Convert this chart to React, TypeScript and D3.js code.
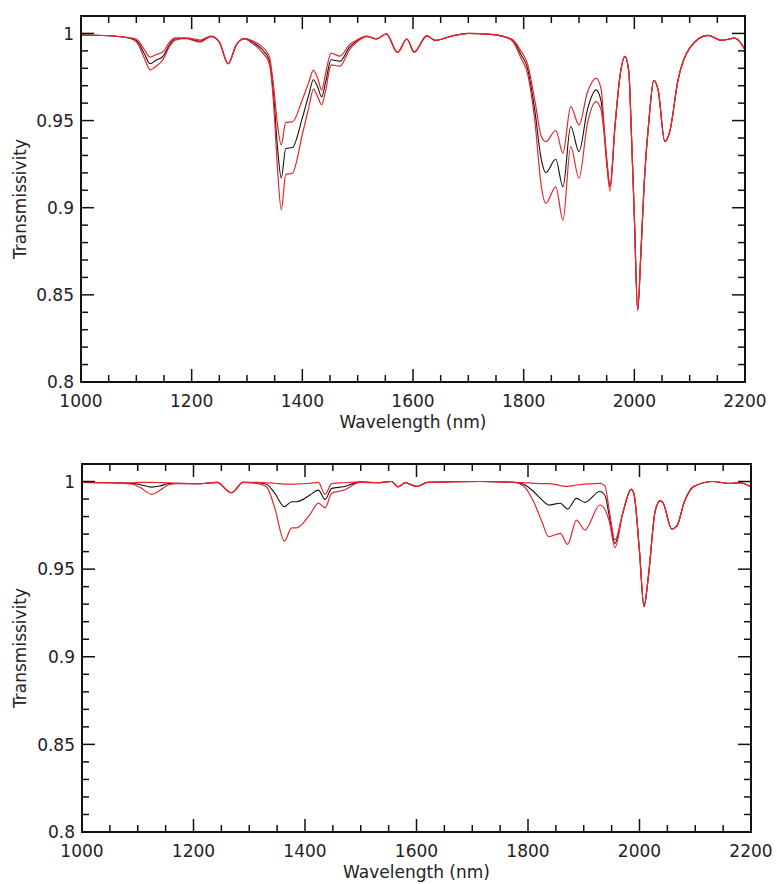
import React from 'react';
import * as d3 from 'd3';

// wavelength grid (nm) and transmissivity
const topWavelengths = [
  1000, 1040, 1080, 1100, 1115, 1125, 1135, 1148, 1160, 1170,
  1190, 1215, 1235, 1250, 1266, 1280, 1295, 1310, 1325, 1340,
  1348, 1355, 1362, 1370, 1382, 1400, 1412, 1420, 1428, 1435,
  1442, 1452, 1468, 1485, 1500, 1516, 1534, 1552, 1572, 1589,
  1602, 1625, 1640, 1670, 1700, 1740, 1763, 1780, 1795, 1807,
  1820, 1832, 1840, 1858, 1871, 1885, 1900, 1915, 1931, 1940,
  1946, 1951, 1956, 1965, 1974, 1983, 1990, 1995, 2000, 2006,
  2012, 2018, 2027, 2035, 2043, 2055, 2064, 2079, 2100, 2133,
  2158, 2182, 2200,
];

const topMean = [
  0.9990, 0.9988, 0.9978, 0.9960, 0.9880, 0.9826, 0.9845, 0.9868, 0.9935, 0.9968,
  0.9972, 0.9955, 0.9983, 0.9950, 0.9826, 0.9930, 0.9970, 0.9950, 0.9915, 0.9850,
  0.9650, 0.9350, 0.9170, 0.9340, 0.9345, 0.9515, 0.9652, 0.9734, 0.9690, 0.9636,
  0.9720, 0.9849, 0.9840, 0.9920, 0.9960, 0.9983, 0.9969, 0.9997, 0.9891, 0.9968,
  0.9893, 0.9986, 0.9960, 0.9985, 1.0000, 0.9995, 0.9983, 0.9960, 0.9880, 0.9800,
  0.9561, 0.9274, 0.9201, 0.9278, 0.9120, 0.9466, 0.9322, 0.9560, 0.9676, 0.9610,
  0.9420, 0.9240, 0.9120, 0.9466, 0.9753, 0.9868, 0.9780, 0.9400, 0.8950, 0.8412,
  0.8750, 0.9150, 0.9523, 0.9730, 0.9676, 0.9380, 0.9437, 0.9734, 0.9916, 0.9989,
  0.9960, 0.9973, 0.9906,
];

const topUpper = [
  0.9990, 0.9988, 0.9978, 0.9968, 0.9905, 0.9864, 0.9878, 0.9893, 0.9950, 0.9975,
  0.9975, 0.9962, 0.9985, 0.9950, 0.9826, 0.9930, 0.9972, 0.9958, 0.9930, 0.9870,
  0.9700, 0.9480, 0.9360, 0.9490, 0.9492, 0.9620, 0.9723, 0.9790, 0.9740, 0.9675,
  0.9770, 0.9887, 0.9870, 0.9935, 0.9965, 0.9984, 0.9969, 0.9997, 0.9891, 0.9968,
  0.9893, 0.9986, 0.9960, 0.9985, 1.0000, 0.9995, 0.9983, 0.9965, 0.9900, 0.9825,
  0.9619, 0.9408, 0.9379, 0.9443, 0.9313, 0.9580, 0.9475, 0.9660, 0.9744, 0.9680,
  0.9440, 0.9250, 0.9125, 0.9466, 0.9753, 0.9868, 0.9780, 0.9400, 0.8950, 0.8412,
  0.8750, 0.9150, 0.9523, 0.9730, 0.9676, 0.9380, 0.9437, 0.9734, 0.9916, 0.9989,
  0.9960, 0.9973, 0.9906,
];

const topLower = [
  0.9990, 0.9988, 0.9978, 0.9952, 0.9855, 0.9791, 0.9810, 0.9849, 0.9925, 0.9962,
  0.9970, 0.9950, 0.9982, 0.9950, 0.9826, 0.9930, 0.9968, 0.9942, 0.9900, 0.9830,
  0.9600, 0.9230, 0.8987, 0.9190, 0.9198, 0.9420, 0.9580, 0.9680, 0.9635, 0.9590,
  0.9670, 0.9820, 0.9812, 0.9905, 0.9955, 0.9982, 0.9969, 0.9997, 0.9891, 0.9968,
  0.9893, 0.9986, 0.9960, 0.9985, 1.0000, 0.9995, 0.9983, 0.9955, 0.9860, 0.9770,
  0.9503, 0.9120, 0.9025, 0.9120, 0.8929, 0.9350, 0.9169, 0.9480, 0.9609, 0.9560,
  0.9400, 0.9220, 0.9095, 0.9466, 0.9753, 0.9868, 0.9780, 0.9400, 0.8950, 0.8412,
  0.8750, 0.9150, 0.9523, 0.9730, 0.9676, 0.9380, 0.9437, 0.9734, 0.9916, 0.9989,
  0.9960, 0.9973, 0.9906,
];

const bottomWavelengths = [
  1000, 1050, 1090, 1105, 1125, 1140, 1155, 1170, 1212, 1242,
  1268, 1289, 1315, 1331, 1346, 1363, 1376, 1385, 1409, 1424,
  1436, 1448, 1469, 1499, 1530, 1555, 1567, 1580, 1600, 1620,
  1714, 1774, 1792, 1810, 1825, 1837, 1858, 1871, 1887, 1902,
  1929, 1938, 1946, 1956, 1970, 1985, 1990, 2000, 2008, 2016,
  2028, 2037, 2042, 2058, 2067, 2080, 2097, 2132, 2162, 2180,
  2200,
];

const bottomMean = [
  0.9995, 0.9993, 0.9990, 0.9982, 0.9968, 0.9975, 0.9988, 0.9990, 0.9988, 0.9995,
  0.9936, 0.9995, 0.9993, 0.9985, 0.9932, 0.9857, 0.9885, 0.9885, 0.9923, 0.9951,
  0.9898, 0.9961, 0.9970, 0.9998, 0.9993, 1.0000, 0.9970, 0.9993, 0.9972, 0.9995,
  1.0000, 0.9996, 0.9984, 0.9943, 0.9895, 0.9866, 0.9876, 0.9843, 0.9904, 0.9881,
  0.9943, 0.9920, 0.9800, 0.9647, 0.9820, 0.9955, 0.9930, 0.9600, 0.9286, 0.9460,
  0.9830, 0.9890, 0.9880, 0.9729, 0.9745, 0.9880, 0.9971, 1.0000, 0.9989, 0.9993,
  0.9970,
];

const bottomUpper = [
  0.9995, 0.9993, 0.9993, 0.9995, 0.9995, 0.9994, 0.9993, 0.9990, 0.9988, 0.9995,
  0.9936, 0.9995, 0.9996, 0.9993, 0.9990, 0.9985, 0.9985, 0.9986, 0.9990, 0.9995,
  0.9927, 0.9988, 0.9993, 0.9998, 0.9993, 1.0000, 0.9970, 0.9993, 0.9972, 0.9995,
  1.0000, 0.9996, 0.9994, 0.9990, 0.9988, 0.9988, 0.9977, 0.9972, 0.9980, 0.9985,
  0.9990, 0.9975, 0.9830, 0.9667, 0.9820, 0.9955, 0.9930, 0.9600, 0.9286, 0.9460,
  0.9830, 0.9890, 0.9880, 0.9729, 0.9745, 0.9880, 0.9971, 1.0000, 0.9989, 0.9993,
  0.9970,
];

const bottomLower = [
  0.9995, 0.9993, 0.9985, 0.9965, 0.9927, 0.9950, 0.9980, 0.9988, 0.9988, 0.9995,
  0.9936, 0.9995, 0.9988, 0.9970, 0.9847, 0.9660, 0.9736, 0.9736, 0.9813, 0.9877,
  0.9850, 0.9933, 0.9950, 0.9995, 0.9993, 1.0000, 0.9970, 0.9993, 0.9972, 0.9995,
  1.0000, 0.9996, 0.9975, 0.9886, 0.9770, 0.9686, 0.9704, 0.9641, 0.9780, 0.9723,
  0.9866, 0.9840, 0.9770, 0.9623, 0.9820, 0.9955, 0.9930, 0.9600, 0.9286, 0.9460,
  0.9830, 0.9890, 0.9880, 0.9729, 0.9745, 0.9880, 0.9971, 1.0000, 0.9989, 0.9993,
  0.9970,
];

const xTickLabels = [1000, 1200, 1400, 1600, 1800, 2000, 2200];
const yTickValues = [0.8, 0.85, 0.9, 0.95, 1];
const yTickLabels = ['0.8', '0.85', '0.9', '0.95', '1'];

const FONT = '"DejaVu Sans", sans-serif';
const RED = '#e8262b';

type Box = { left: number; right: number; top: number; bottom: number };

const Panel = ({ id, box, wl, mean, upper, lower }: {
  id: string; box: Box; wl: number[]; mean: number[]; upper: number[]; lower: number[];
}) => {
  const x = d3.scaleLinear().domain([1000, 2200]).range([box.left, box.right]);
  const y = d3.scaleLinear().domain([0.8, 1.01]).range([box.bottom, box.top]);

  const line = d3.line<number>()
    .x((_, i) => x(wl[i]))
    .y(d => y(d))
    .curve(d3.curveMonotoneX);

  const xMinor = d3.range(1000, 2201, 50);
  const yMinor = d3.range(80, 102).map(v => v / 100);

  const majorLen = 13;
  const minorLen = 7;
  const cx = (box.left + box.right) / 2;
  const cy = (box.top + box.bottom) / 2;

  return (
    <g>
      <defs>
        <clipPath id={id}>
          <rect x={box.left} y={box.top} width={box.right - box.left} height={box.bottom - box.top} />
        </clipPath>
      </defs>

      <g clipPath={`url(#${id})`} fill="none">
        <path d={line(mean) || ''} stroke="#111" strokeWidth={1.1} />
        <path d={line(upper) || ''} stroke={RED} strokeWidth={1.2} />
        <path d={line(lower) || ''} stroke={RED} strokeWidth={1.2} />
      </g>

      {/* ticks on all four sides, pointing inward */}
      <g stroke="#111" strokeWidth={1.5}>
        {xMinor.map(v => {
          const len = xTickLabels.includes(v) ? majorLen : minorLen;
          return (
            <g key={`x${v}`}>
              <line x1={x(v)} x2={x(v)} y1={box.bottom} y2={box.bottom - len} />
              <line x1={x(v)} x2={x(v)} y1={box.top} y2={box.top + len} />
            </g>
          );
        })}
        {yMinor.map(v => {
          const len = yTickValues.some(t => Math.abs(t - v) < 1e-6) ? majorLen : minorLen;
          return (
            <g key={`y${v}`}>
              <line x1={box.left} x2={box.left + len} y1={y(v)} y2={y(v)} />
              <line x1={box.right} x2={box.right - len} y1={y(v)} y2={y(v)} />
            </g>
          );
        })}
      </g>

      <rect x={box.left} y={box.top} width={box.right - box.left} height={box.bottom - box.top}
        fill="none" stroke="#111" strokeWidth={2} />

      <g fontFamily={FONT} fontSize={17} fill="#222">
        {xTickLabels.map(v => (
          <text key={v} x={x(v)} y={box.bottom + 25} textAnchor="middle">{v}</text>
        ))}
        {yTickValues.map((v, i) => (
          <text key={v} x={box.left - 7} y={y(v)} dy="0.36em" textAnchor="end">{yTickLabels[i]}</text>
        ))}
        <text x={cx} y={box.bottom + 46} textAnchor="middle">Wavelength (nm)</text>
        <text transform={`translate(26,${cy}) rotate(-90)`} textAnchor="middle">Transmissivity</text>
      </g>
    </g>
  );
};

export default function App() {
  return (
    <svg width={777} height={884} style={{ position: 'absolute', left: 0, top: 0, background: '#fff' }}>
      <Panel id="clipTop" box={{ left: 81, right: 745, top: 16, bottom: 382 }}
        wl={topWavelengths} mean={topMean} upper={topUpper} lower={topLower} />
      <Panel id="clipBottom" box={{ left: 82, right: 751, top: 464, bottom: 832 }}
        wl={bottomWavelengths} mean={bottomMean} upper={bottomUpper} lower={bottomLower} />
    </svg>
  );
}
